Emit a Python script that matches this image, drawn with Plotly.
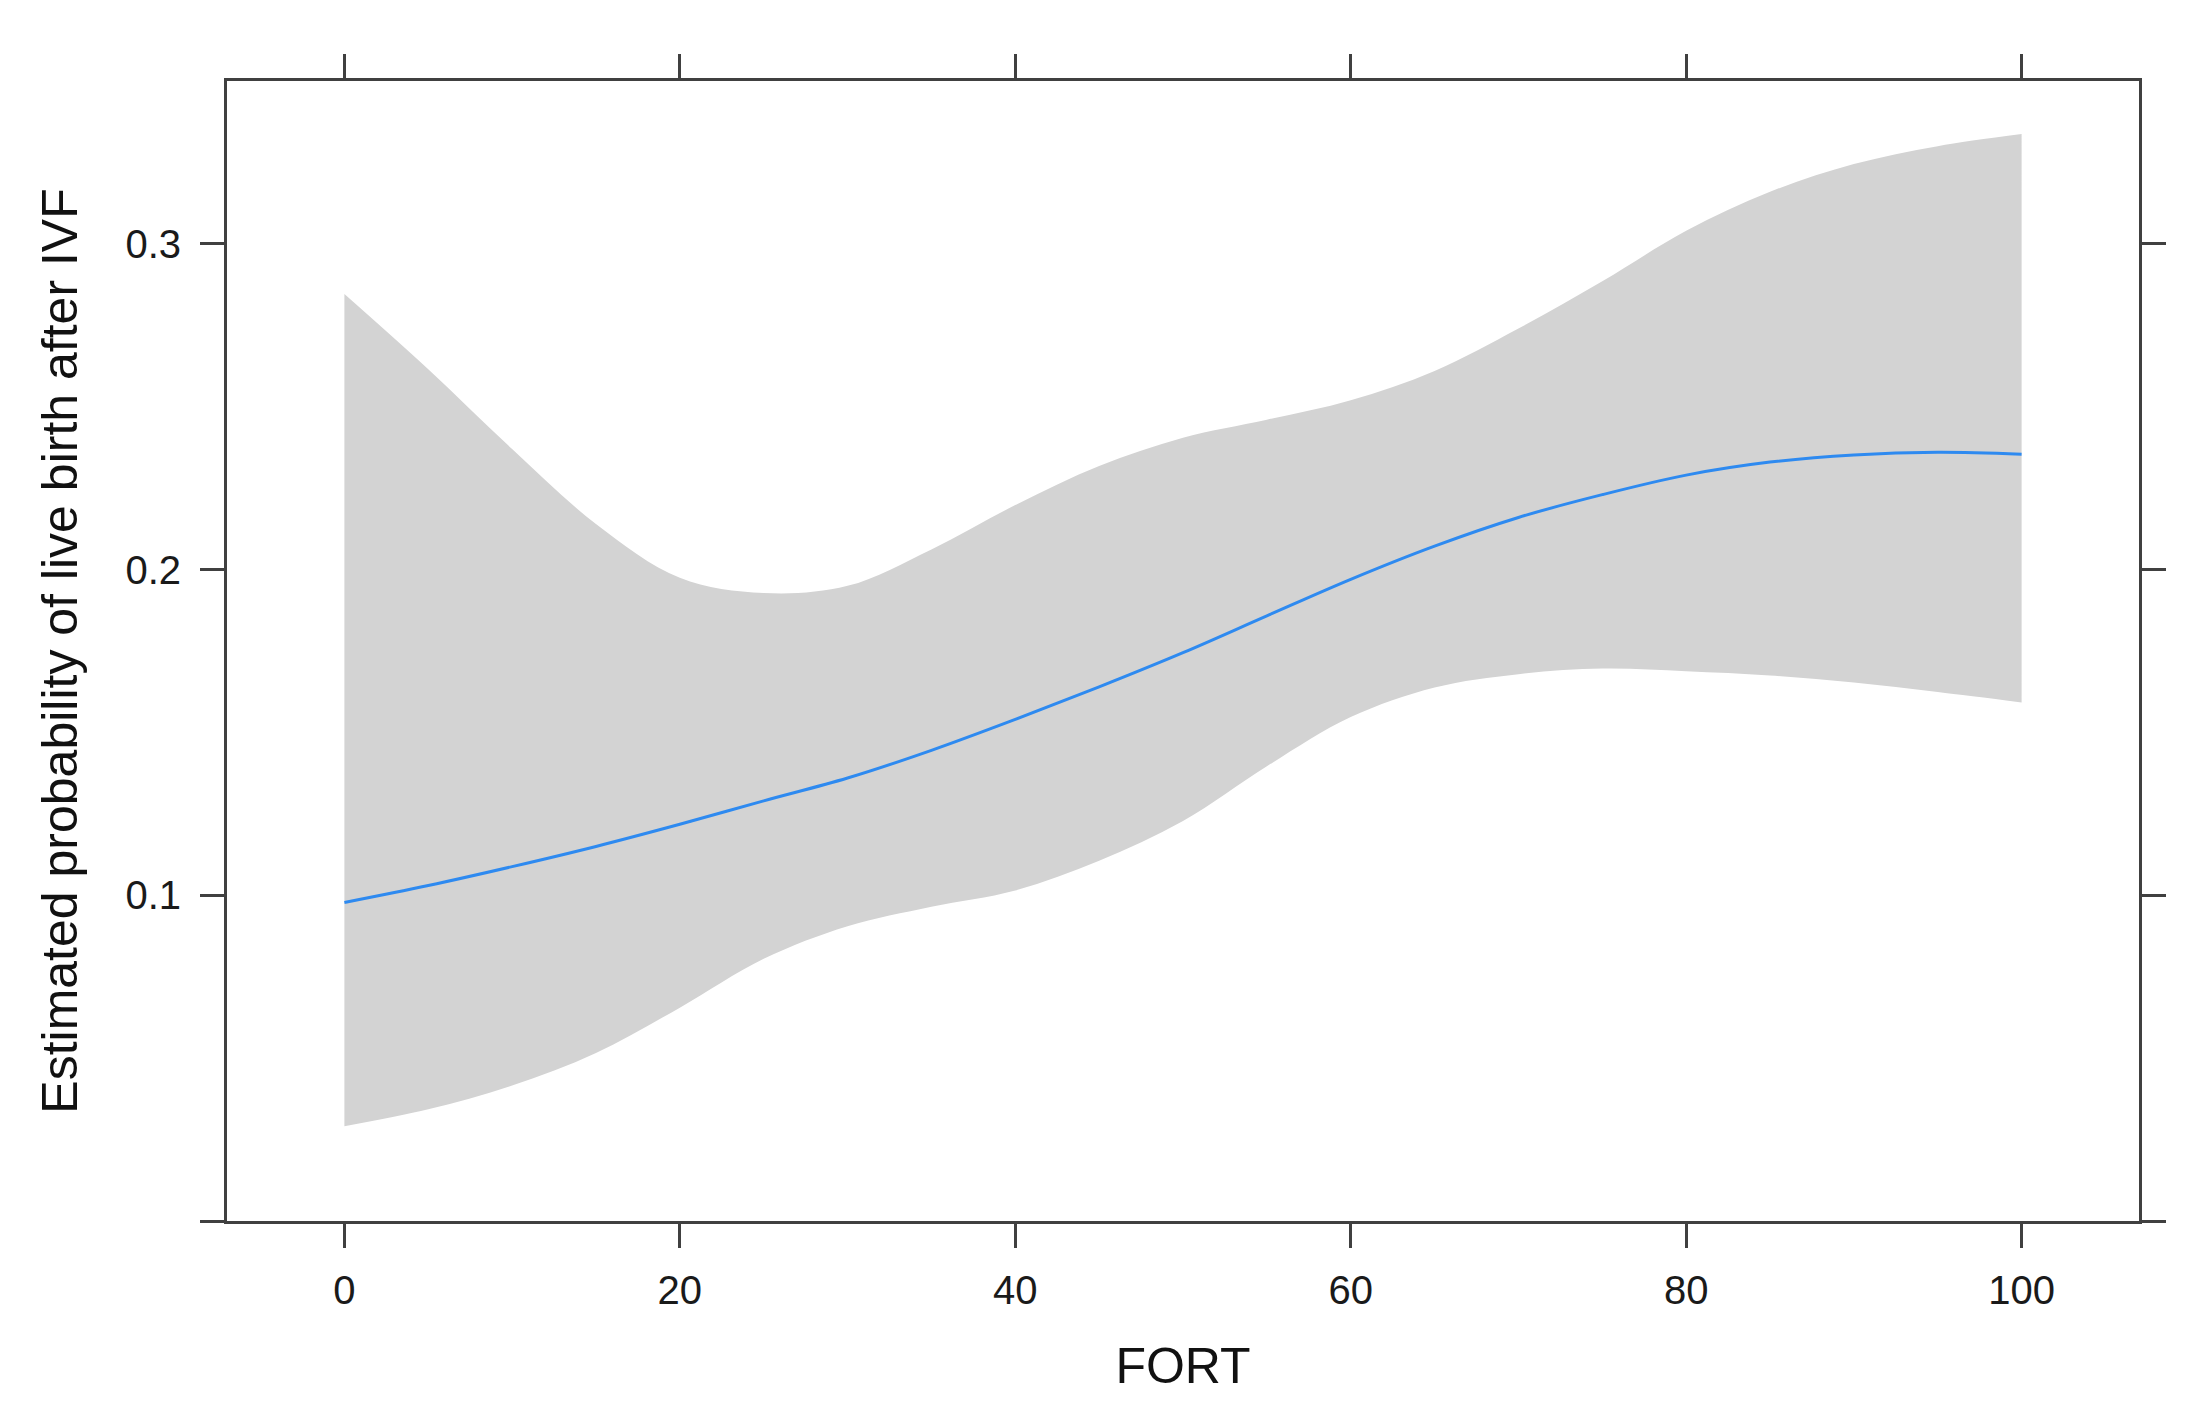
import plotly.graph_objects as go

# FORT values and the fitted effect with its confidence band
FORT = [0, 5, 10, 15, 20, 25, 30, 35, 40, 45, 50, 55, 60, 65, 70, 75, 80, 85, 90, 95, 100]
FIT = [0.0978, 0.1030, 0.1088, 0.1150, 0.1218, 0.1290, 0.1360, 0.1445, 0.1540, 0.1640,
       0.1745, 0.1858, 0.1970, 0.2072, 0.2160, 0.2230, 0.2290, 0.2330, 0.2352, 0.2360, 0.2354]
UPPER = [0.2846, 0.2615, 0.2370, 0.2140, 0.1975, 0.1928, 0.1950, 0.2062, 0.2198, 0.2318,
         0.2405, 0.2460, 0.2520, 0.2610, 0.2740, 0.2885, 0.3040, 0.3160, 0.3245, 0.3300, 0.3337]
LOWER = [0.0291, 0.0343, 0.0416, 0.0516, 0.0655, 0.0805, 0.0905, 0.0965, 0.1015, 0.1106,
         0.1228, 0.1396, 0.1547, 0.1638, 0.1679, 0.1696, 0.1688, 0.1675, 0.1653, 0.1624, 0.1592]

X_TICKS = [0, 20, 40, 60, 80, 100]
Y_TICKS = [0, 0.1, 0.2, 0.3]
Y_TICK_TEXT = ["", "0.1", "0.2", "0.3"]

AXIS_COLOR = "#404040"
FONT = "Liberation Sans, Arial, sans-serif"

fig = go.Figure()

fig.add_trace(go.Scatter(x=FORT, y=LOWER, mode="lines", line=dict(width=0, shape="spline"),
                         hoverinfo="skip", showlegend=False))
fig.add_trace(go.Scatter(x=FORT, y=UPPER, mode="lines", line=dict(width=0, shape="spline"),
                         fill="tonexty", fillcolor="#D3D3D3", hoverinfo="skip", showlegend=False))
fig.add_trace(go.Scatter(x=FORT, y=FIT, mode="lines", line=dict(color="#2E8AF0", width=3, shape="spline"),
                         showlegend=False))

axis_common = dict(
    showgrid=False,
    zeroline=False,
    showline=True,
    linecolor=AXIS_COLOR,
    linewidth=3,
    mirror="ticks",
    ticks="outside",
    ticklen=24,
    tickwidth=3,
    tickcolor=AXIS_COLOR,
    tickfont=dict(family=FONT, size=40, color="#1a1a1a"),
    automargin=False,
)

fig.update_xaxes(
    range=[-7, 107],
    tickvals=X_TICKS,
    ticklabelstandoff=8,
    title=dict(text="FORT", font=dict(family=FONT, size=50, color="#111111"), standoff=37),
    **axis_common,
)
fig.update_yaxes(
    range=[0, 0.35],
    tickvals=Y_TICKS,
    ticktext=Y_TICK_TEXT,
    ticklabelstandoff=11,
    title=dict(text="Estimated probability of live birth after IVF",
               font=dict(family=FONT, size=50, color="#111111"), standoff=32),
    **axis_common,
)

fig.update_layout(
    width=2184,
    height=1403,
    margin=dict(l=219, r=53, t=73, b=190),
    paper_bgcolor="white",
    plot_bgcolor="white",
    font=dict(family=FONT),
)

fig.write_html("out.html")
